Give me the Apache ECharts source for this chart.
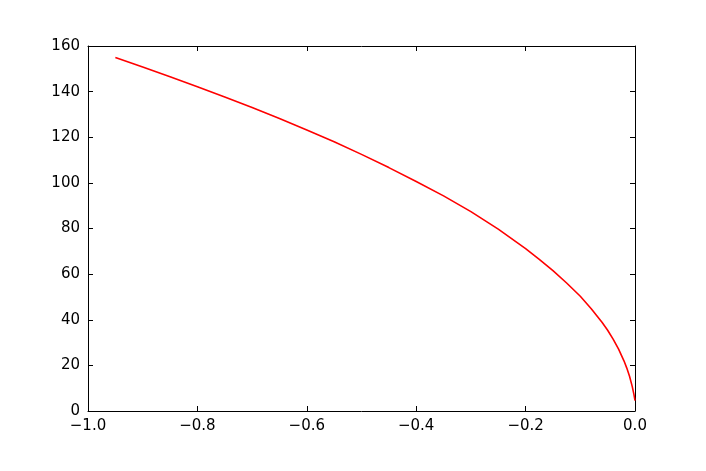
<html>
<head>
    <meta charset="utf-8">
    <title>ECharts</title>
    <script src="https://cdn.jsdelivr.net/npm/echarts@6.0.0/dist/echarts.min.js"></script>
</head>
<body style="margin:0;background:#fff;">
<div id="main" style="width: 706px;height:471px;"></div>
<script type="text/javascript">
    // values
    var xValues = [-0.95, -0.9, -0.85, -0.8, -0.75, -0.7, -0.65, -0.6, -0.55, -0.5,
        -0.45, -0.4, -0.35, -0.3, -0.25, -0.2, -0.175, -0.15, -0.125, -0.1,
        -0.08, -0.06, -0.05, -0.04, -0.03, -0.02, -0.015, -0.01, -0.005, -0.002, 0];
    var yValues = [155, 150.8, 146.5, 142.1, 137.6, 133, 128.2, 123.2, 118, 112.5,
        106.7, 100.6, 94.3, 87.4, 79.7, 71.2, 66.5, 61.5, 56.1, 50.3,
        44.8, 38.8, 35.4, 31.5, 27.1, 21.9, 18.8, 15.2, 10.7, 7.3, 4.5];
    var xTicks = {min: -1.0, max: 0.0, interval: 0.2};
    var yTicks = {min: 0, max: 160, interval: 20};

    var points = [];
    for (var i = 0; i < xValues.length; i++) {
        points.push([xValues[i], yValues[i]]);
    }

    function minus(s) {
        return s.replace('-', '\u2212');
    }

    var font = {fontFamily: 'DejaVu Sans', fontSize: 15, color: '#000'};
    var axisLine = {show: true, onZero: false, lineStyle: {color: '#000', width: 1}};
    var axisTick = {show: true, inside: true, length: 5, lineStyle: {color: '#000', width: 1}};

    var myChart = echarts.init(document.getElementById('main'));
    var option = {
        animation: false,
        grid: {left: 88, right: 71, top: 46, bottom: 60, containLabel: false},
        xAxis: [{
            type: 'value', position: 'bottom',
            min: xTicks.min, max: xTicks.max, interval: xTicks.interval,
            axisLine: axisLine, axisTick: axisTick, splitLine: {show: false},
            axisLabel: Object.assign({margin: 8, formatter: function (v) { return minus(v.toFixed(1)); }}, font)
        }, {
            type: 'value', position: 'top',
            min: xTicks.min, max: xTicks.max, interval: xTicks.interval,
            axisLine: axisLine, axisTick: axisTick, splitLine: {show: false},
            axisLabel: {show: false}
        }],
        yAxis: [{
            type: 'value', position: 'left',
            min: yTicks.min, max: yTicks.max, interval: yTicks.interval,
            axisLine: axisLine, axisTick: axisTick, splitLine: {show: false},
            axisLabel: Object.assign({margin: 8}, font)
        }, {
            type: 'value', position: 'right',
            min: yTicks.min, max: yTicks.max, interval: yTicks.interval,
            axisLine: axisLine, axisTick: axisTick, splitLine: {show: false},
            axisLabel: {show: false}
        }],
        series: [{
            type: 'line',
            data: points,
            smooth: false,
            showSymbol: false,
            lineStyle: {color: '#ff0000', width: 1.6}
        }]
    };
    myChart.setOption(option);
</script>
</body>
</html>
